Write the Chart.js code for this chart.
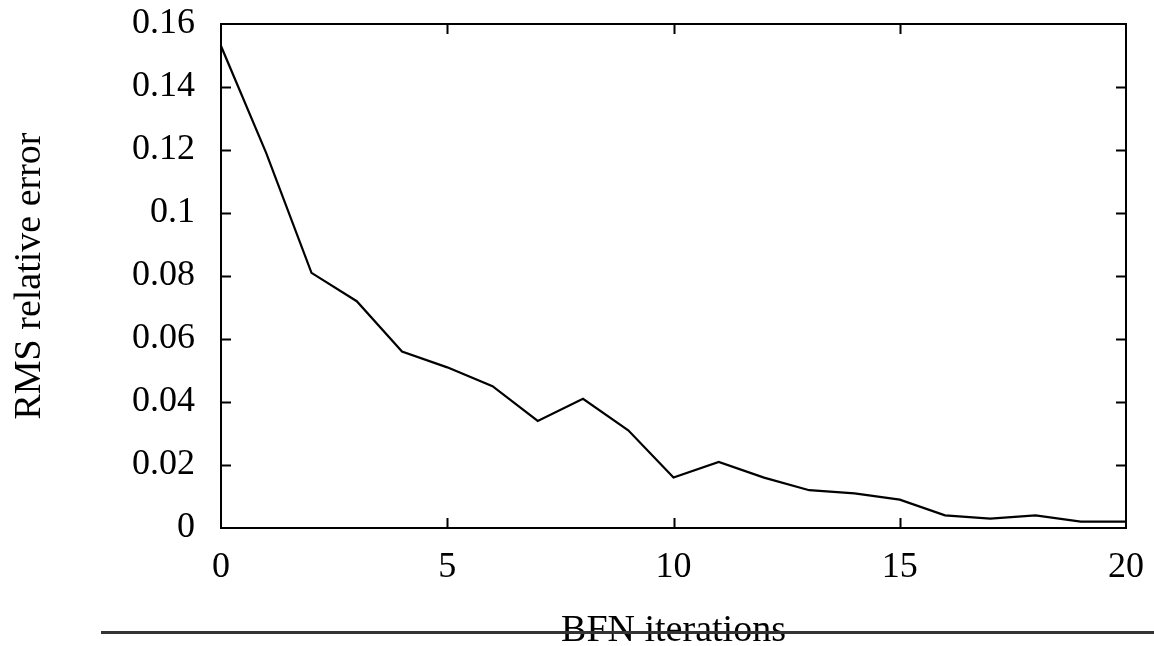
<!DOCTYPE html>
<html>
<head>
<meta charset="utf-8">
<script src="https://cdn.jsdelivr.net/npm/chart.js@4/dist/chart.umd.min.js"></script>
<style>
  html, body { margin: 0; padding: 0; background: #fff; }
  #wrap { width: 1154px; height: 646px; position: relative; }
</style>
</head>
<body>
<div id="wrap"><canvas id="c" width="1154" height="646"></canvas></div>
<script>
// ---- data ----
const iterations = [0, 1, 2, 3, 4, 5, 6, 7, 8, 9, 10, 11, 12, 13, 14, 15, 16, 17, 18, 19, 20];
const rmsError = [0.153, 0.119, 0.081, 0.072, 0.056, 0.051, 0.045, 0.034, 0.041, 0.031, 0.016,
                  0.021, 0.016, 0.012, 0.011, 0.009, 0.004, 0.003, 0.004, 0.002, 0.002];
const xTicks = [0, 5, 10, 15, 20];
const yTicks = [0, 0.02, 0.04, 0.06, 0.08, 0.1, 0.12, 0.14, 0.16];
const xTitle = 'BFN iterations';
const yTitle = 'RMS relative error';

const FONT = '"Liberation Serif", "Times New Roman", Times, serif';

const framePlugin = {
  id: 'frame',
  afterDraw(chart) {
    const ctx = chart.ctx;
    const a = chart.chartArea;
    const xs = chart.scales.x, ys = chart.scales.y;
    const tl = 10;
    ctx.save();
    ctx.strokeStyle = '#000';
    ctx.lineWidth = 2;
    ctx.beginPath();
    xTicks.forEach(v => {
      const px = Math.round(xs.getPixelForValue(v)) + 0.5;
      if (v !== xs.min && v !== xs.max) {
        ctx.moveTo(px, a.bottom); ctx.lineTo(px, a.bottom - tl);
        ctx.moveTo(px, a.top); ctx.lineTo(px, a.top + tl);
      }
    });
    yTicks.forEach(v => {
      const py = Math.round(ys.getPixelForValue(v)) + 0.5;
      if (v !== ys.min && v !== ys.max) {
        ctx.moveTo(a.left, py); ctx.lineTo(a.left + tl, py);
        ctx.moveTo(a.right, py); ctx.lineTo(a.right - tl, py);
      }
    });
    ctx.stroke();
    ctx.strokeRect(a.left, a.top, a.right - a.left, a.bottom - a.top);
    // decorative line under the axis title
    ctx.strokeStyle = '#333';
    ctx.lineWidth = 3;
    ctx.beginPath();
    const ly = a.bottom + 104.5;
    ctx.moveTo(a.left - 120, ly);
    ctx.lineTo(chart.width, ly);
    ctx.stroke();
    ctx.restore();
  }
};

new Chart(document.getElementById('c'), {
  type: 'line',
  data: {
    datasets: [{
      data: iterations.map((x, i) => ({ x: x, y: rmsError[i] })),
      borderColor: '#000',
      borderWidth: 2.2,
      pointRadius: 0,
      tension: 0,
      fill: false
    }]
  },
  options: {
    responsive: false,
    animation: false,
    layout: { padding: { top: 24, right: 28, left: 0, bottom: 0 } },
    plugins: { legend: { display: false }, tooltip: { enabled: false } },
    scales: {
      x: {
        type: 'linear', min: 0, max: 20,
        afterBuildTicks: s => { s.ticks = xTicks.map(v => ({ value: v })); },
        afterFit: s => { s.height = 118; s.paddingLeft = 0; s.paddingRight = 0; },
        grid: { display: false, drawTicks: false },
        border: { display: false },
        ticks: { color: '#000', padding: 18, maxRotation: 0,
                 font: { family: FONT, size: 36 },
                 callback: v => String(v) },
        title: { display: true, text: xTitle, color: '#000',
                 font: { family: FONT, size: 38, lineHeight: 1 },
                 padding: { top: 0, bottom: -4 } }
      },
      y: {
        type: 'linear', min: 0, max: 0.16,
        afterBuildTicks: s => { s.ticks = yTicks.map(v => ({ value: v })); },
        afterFit: s => { s.width = 221; s.paddingTop = 0; s.paddingBottom = 0; },
        grid: { display: false, drawTicks: false },
        border: { display: false },
        ticks: { color: '#000', padding: 26,
                 font: { family: FONT, size: 36 },
                 callback: v => String(+v.toFixed(2)) },
        title: { display: true, text: yTitle, color: '#000',
                 font: { family: FONT, size: 38, lineHeight: 1 },
                 padding: { top: 11, bottom: 0 } }
      }
    }
  },
  plugins: [framePlugin]
});
</script>
</body>
</html>
